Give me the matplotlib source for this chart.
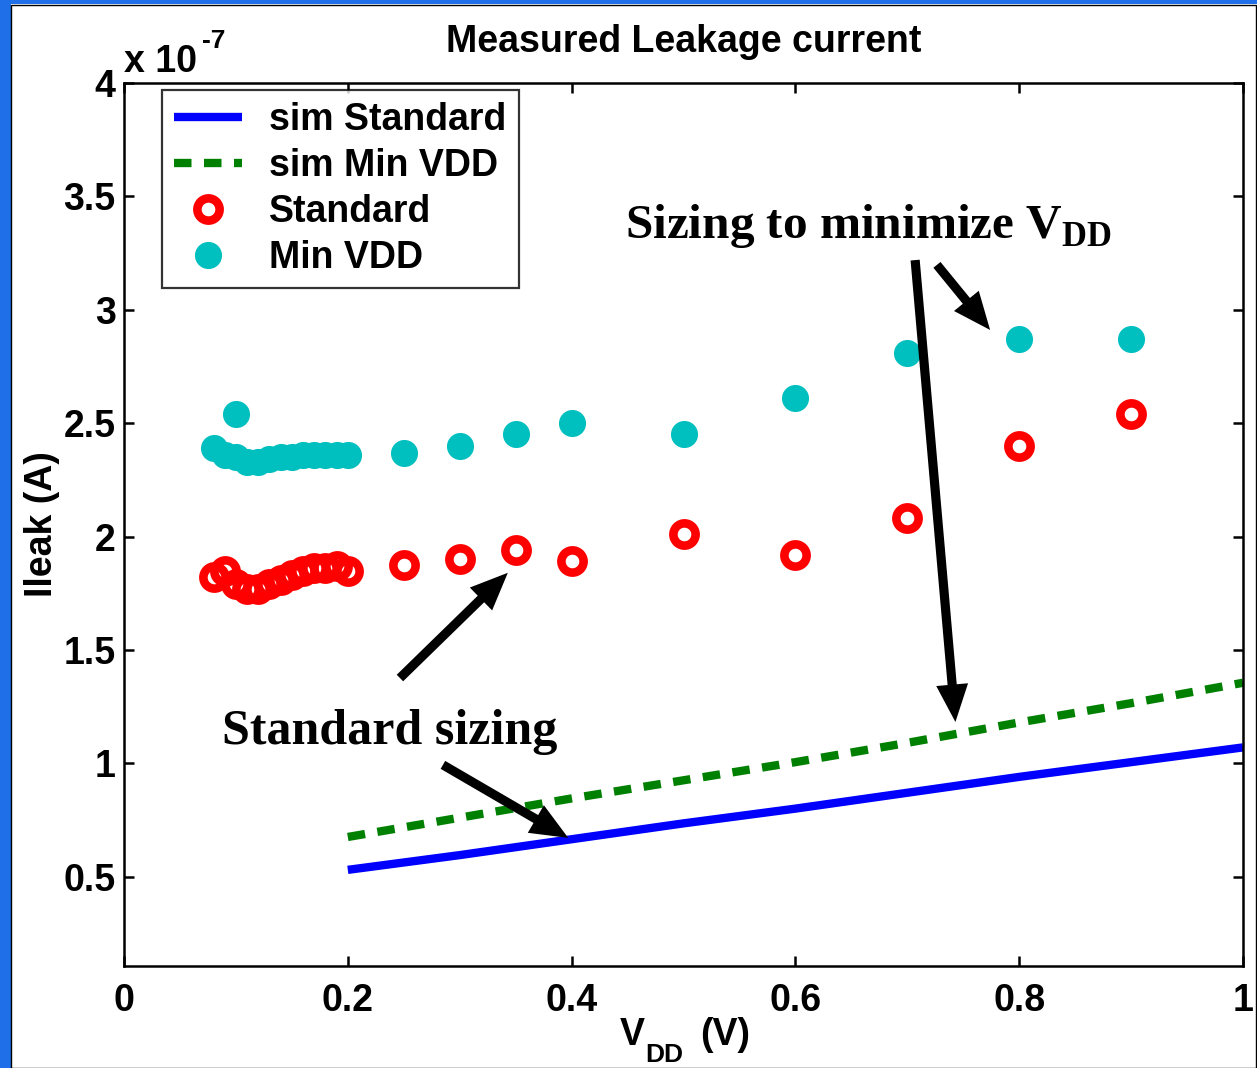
import numpy as np
import matplotlib
matplotlib.use("Agg")
import matplotlib.pyplot as plt
from matplotlib.patches import Rectangle
from matplotlib.ticker import FuncFormatter, MultipleLocator

plt.rcParams['font.family'] = ['Liberation Sans', 'DejaVu Sans']
plt.rcParams['font.weight'] = 'bold'
plt.rcParams['mathtext.fontset'] = 'custom'
plt.rcParams['mathtext.rm'] = 'Liberation Sans:bold'
plt.rcParams['mathtext.bf'] = 'Liberation Serif:bold'

SCALE = 1e-7

# Simulated leakage (units of 1e-7 A)
sim_vdd = [0.2, 0.3, 0.4, 0.5, 0.6, 0.7, 0.8, 0.9, 1.0]
sim_standard = [0.53, 0.595, 0.665, 0.735, 0.80, 0.87, 0.94, 1.005, 1.07]
sim_min_vdd = [0.675, 0.76, 0.845, 0.925, 1.005, 1.09, 1.18, 1.265, 1.355]

# Measured leakage, standard sizing (units of 1e-7 A)
meas_std_vdd = [0.08, 0.09, 0.10, 0.11, 0.12, 0.13, 0.14, 0.15, 0.16, 0.17,
                0.18, 0.19, 0.20, 0.25, 0.30, 0.35, 0.40, 0.50, 0.60, 0.70,
                0.80, 0.90]
meas_std = [1.82, 1.85, 1.79, 1.77, 1.77, 1.79, 1.81, 1.83, 1.85, 1.86,
            1.86, 1.87, 1.85, 1.874, 1.90, 1.94, 1.89, 2.01, 1.92, 2.08,
            2.40, 2.54]

# Measured leakage, sizing for minimum VDD (units of 1e-7 A)
meas_min_vdd = [0.08, 0.09, 0.10, 0.10, 0.11, 0.12, 0.13, 0.14, 0.15, 0.16,
                0.17, 0.18, 0.19, 0.20, 0.25, 0.30, 0.35, 0.40, 0.50, 0.60,
                0.70, 0.80, 0.90]
meas_min = [2.39, 2.36, 2.54, 2.35, 2.33, 2.33, 2.34, 2.35, 2.35, 2.36,
            2.36, 2.36, 2.36, 2.36, 2.37, 2.40, 2.45, 2.50, 2.45, 2.61,
            2.81, 2.87, 2.87]

W, H = 1257, 1068
fig = plt.figure(figsize=(W / 100, H / 100), dpi=100)
fig.patch.set_facecolor('white')

# slide frame
fig.patches.append(Rectangle((0, 0), 11 / W, 1, transform=fig.transFigure,
                             facecolor='#1F6FE8', edgecolor='none', zorder=0))
fig.patches.append(Rectangle((0, 1 - 4 / H), 1, 4 / H, transform=fig.transFigure,
                             facecolor='#1F6FE8', edgecolor='none', zorder=0))
fig.patches.append(Rectangle((11 / W, 0), 1 - 12 / W, 1 - 5 / H, transform=fig.transFigure,
                             facecolor='none', edgecolor='black', lw=1.0, zorder=0))

ax = fig.add_axes([124 / W, 1 - 966 / H, (1243 - 124) / W, (966 - 83) / H])

s = lambda v: np.asarray(v) * SCALE

ax.plot(sim_vdd, s(sim_standard), color='#0000FF', lw=6, solid_capstyle='butt',
        label='sim Standard')
ax.plot(sim_vdd, s(sim_min_vdd), color='#008000', lw=6, dashes=(2.1, 1.5),
        dash_capstyle='butt', label='sim Min VDD')
ax.plot(meas_std_vdd, s(meas_std), 'o', ls='none', mfc='none', mec='#FF0000',
        ms=16, mew=6.2, label='Standard')
ax.plot(meas_min_vdd, s(meas_min), 'o', ls='none', mfc='#00BFBF', mec='#00BFBF',
        ms=18, mew=1.5, label='Min VDD')

ax.set_xlim(0, 1)
ax.set_ylim(0.106 * SCALE, 4 * SCALE)
ax.xaxis.set_major_locator(MultipleLocator(0.2))
ax.yaxis.set_major_locator(MultipleLocator(0.5 * SCALE))
ax.xaxis.set_major_formatter(FuncFormatter(lambda v, p: f"{v:g}"))
ax.yaxis.set_major_formatter(FuncFormatter(lambda v, p: f"{v / SCALE:g}"))

for sp in ax.spines.values():
    sp.set_linewidth(1.8)
ax.tick_params(direction='in', length=7, width=1.8, top=True, right=True,
               labelsize=27)
ax.tick_params(axis='x', pad=12)
ax.tick_params(axis='y', pad=6)

# exponent label above the y axis
ax.text(0.0, 1.0125, 'x 10', transform=ax.transAxes, fontsize=27,
        ha='left', va='baseline')
ax.text(0.0697, 1.040, '-7', transform=ax.transAxes, fontsize=19,
        ha='left', va='baseline')

ax.set_title('Measured Leakage current', fontsize=27, fontweight='bold', pad=22)

# x label: V with lowered DD subscript, then (V)
ax.text(0.4432, -0.0895, 'V', transform=ax.transAxes, fontsize=27,
        fontweight='bold', ha='left', va='baseline')
ax.text(0.4655, -0.1087, 'DD', transform=ax.transAxes, fontsize=19,
        fontweight='bold', ha='left', va='baseline')
ax.text(0.5148, -0.0895, '(V)', transform=ax.transAxes, fontsize=27,
        fontweight='bold', ha='left', va='baseline')

ax.set_ylabel('Ileak (A)', fontsize=27, fontweight='bold')
ax.yaxis.set_label_coords(-0.057, 0.5)

leg = ax.legend(loc='upper left', bbox_to_anchor=(0.034, 0.992),
                borderaxespad=0, fontsize=27, frameon=True, fancybox=False,
                handlelength=1.8, handletextpad=0.74, labelspacing=0.27,
                borderpad=0.32, markerscale=1.0)
leg.get_frame().set_edgecolor('black')
leg.get_frame().set_linewidth(1.6)

# annotations
serif = ['Liberation Serif', 'DejaVu Serif']
ax.text(0.0876, 1.14 * SCALE, 'Standard sizing', family=serif, fontsize=36,
        fontweight='bold', ha='left', va='center')
ax.text(0.4477, 3.37 * SCALE, r'Sizing to minimize V$_{\mathbf{DD}}$', family=serif,
        fontsize=35.5, fontweight='bold', ha='left', va='center')

arrow_kw = dict(arrowstyle='simple,head_length=1.35,head_width=1.15,tail_width=0.33',
                mutation_scale=20, color='black', lw=0, shrinkA=0, shrinkB=0)
arrows = [((0.2466, 1.376), (0.343, 1.840)),
          ((0.285, 0.993), (0.397, 0.671)),
          ((0.707, 3.219), (0.743, 1.182)),
          ((0.7265, 3.198), (0.774, 2.911))]
for (x0, y0), (x1, y1) in arrows:
    ax.annotate('', xy=(x1, y1 * SCALE), xytext=(x0, y0 * SCALE),
                arrowprops=arrow_kw)

fig.savefig('out.png', dpi=100, facecolor=fig.get_facecolor())
